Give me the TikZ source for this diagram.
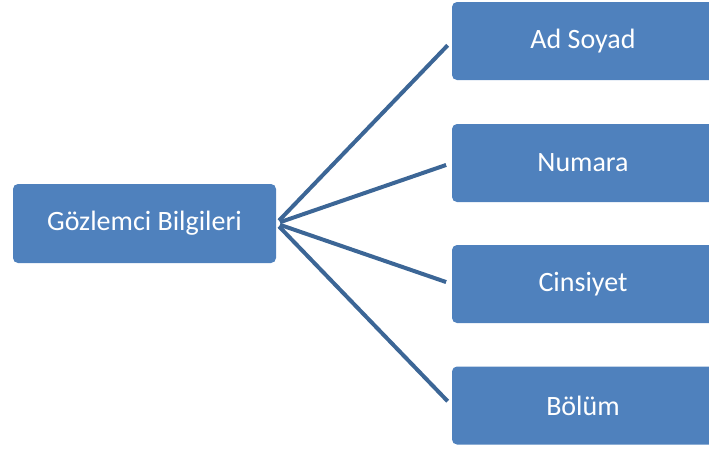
\documentclass[tikz,border=0pt]{standalone}
\usepackage{fontspec}
\setmainfont{Carlito}
\definecolor{boxblue}{HTML}{4F81BD}
\definecolor{lineblue}{HTML}{3C6696}

\begin{document}
\begin{tikzpicture}
      [%%%%%%%%%%%%%%%%%%%%%%%%%%%%%%
      x=1pt, y=-1pt,
      box/.style={rectangle,fill=boxblue,rounded corners=5pt,text=white,
        font=\fontsize{28}{32}\selectfont, minimum height=78pt},
      link/.style={draw=lineblue,line width=4pt,shorten <=4pt,shorten >=6pt},
      ]%%%%%%%%%%%%%%%%%%%%%%%%%%%%%%
      \useasboundingbox (0,0) rectangle (709,448);
      \clip (0,0) rectangle (709,448);

      \node[box,minimum width=263pt,minimum height=79pt] (bilgi) at (144.5,223.5){Gözlemci Bilgileri};

      \node[box,minimum width=262pt] (ad) at (583,41){Ad Soyad};
      \node[box,minimum width=262pt] (numara) at (583,163){Numara};
      \node[box,minimum width=262pt] (cins) at (583,284){Cinsiyet};
      \node[box,minimum width=262pt] (bolum) at (583,405.5){Bölüm};

      \draw[link] (bilgi.east) -- (ad.west);
      \draw[link] (bilgi.east) -- (numara.west);
      \draw[link] (bilgi.east) -- (cins.west);
      \draw[link] (bilgi.east) -- (bolum.west);
    \end{tikzpicture}
\end{document}
